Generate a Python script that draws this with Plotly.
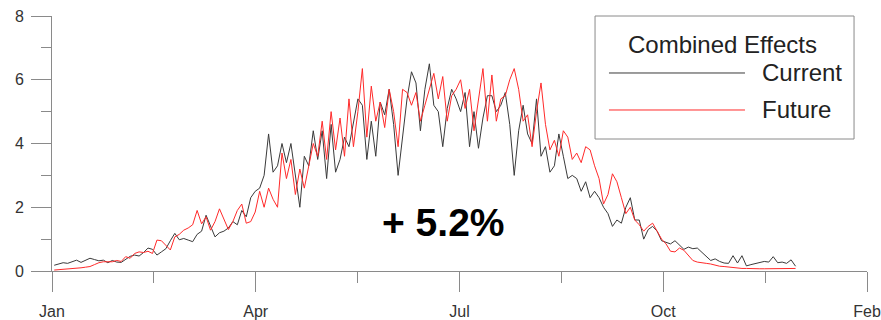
import plotly.graph_objects as go

# Day of year for each sample (every second day)
days = list(range(1, 334, 2))

current = [
    0.18, 0.22, 0.26, 0.24, 0.30, 0.34, 0.27, 0.33, 0.40, 0.36,
    0.32, 0.34, 0.26, 0.33, 0.28, 0.27, 0.36, 0.46, 0.50, 0.47,
    0.58, 0.72, 0.68, 0.50, 0.60, 0.70, 0.95, 1.18, 0.98, 1.02,
    0.97, 0.92, 1.15, 1.25, 1.75, 1.40, 1.07, 1.20, 1.25, 1.35,
    1.55, 1.45, 1.90, 1.70, 2.30, 2.50, 2.60, 3.00, 4.30, 3.10,
    3.30, 4.00, 3.40, 4.00, 3.00, 2.00, 3.60, 3.30, 4.40, 3.50,
    4.40, 2.90, 4.60, 3.10, 3.50, 4.20, 3.90, 4.70, 5.40, 5.20,
    3.50, 4.70, 3.60, 5.30, 4.90, 5.70, 4.60, 3.00, 4.20, 5.40,
    6.25, 5.90, 4.40, 5.70, 6.50, 5.20, 5.00, 3.90, 5.10, 5.70,
    5.40, 5.00, 5.60, 3.90, 5.00, 3.85, 4.80, 5.50, 5.50, 5.00,
    5.20, 5.60, 4.60, 3.00, 4.40, 5.20, 4.30, 4.00, 5.40, 3.60,
    3.90, 3.10, 3.30, 4.30, 3.60, 2.90, 3.00, 2.90, 2.50, 2.80,
    2.30, 2.50, 2.30, 2.00, 1.80, 1.40, 1.60, 1.50, 2.00, 2.30,
    1.60, 1.60, 1.00, 1.30, 1.40, 1.25, 0.95, 0.90, 0.85, 0.95,
    0.80, 0.68, 0.75, 0.70, 0.72, 0.60, 0.45, 0.33, 0.38, 0.30,
    0.25, 0.24, 0.48, 0.25, 0.48, 0.16, 0.20, 0.24, 0.28, 0.30,
    0.28, 0.45, 0.26, 0.28, 0.24, 0.35, 0.15,
]

future = [
    0.03, 0.04, 0.05, 0.06, 0.06, 0.08, 0.10, 0.12, 0.14, 0.20,
    0.26, 0.29, 0.30, 0.29, 0.33, 0.30, 0.45, 0.40, 0.55, 0.60,
    0.58, 0.62, 0.55, 0.97, 0.95, 0.80, 0.66, 1.07, 1.15, 1.28,
    1.35, 1.45, 1.90, 1.48, 1.70, 1.28, 1.55, 1.95, 1.65, 1.30,
    1.55, 1.90, 2.10, 1.50, 1.55, 1.85, 2.50, 2.00, 2.60, 2.25,
    2.00, 3.70, 2.90, 3.50, 2.40, 3.20, 2.60, 3.30, 4.00, 3.60,
    4.70, 3.50, 5.00, 3.80, 4.80, 3.60, 5.40, 3.90, 5.00, 6.35,
    4.20, 5.80, 4.70, 5.30, 4.50, 5.70, 5.00, 3.90, 5.70, 5.60,
    5.20, 5.60, 4.70, 5.20, 5.70, 6.20, 5.40, 6.10, 4.70, 5.50,
    5.70, 6.00, 5.10, 5.70, 4.40, 5.40, 6.35, 4.70, 6.15, 4.70,
    5.40, 5.50, 6.00, 6.35, 5.70, 4.70, 4.90, 3.90, 5.00, 5.90,
    4.60, 3.80, 4.10, 3.60, 4.40, 4.20, 3.50, 3.70, 3.40, 3.90,
    3.80, 3.30, 2.90, 2.10, 2.40, 3.05, 2.80, 2.30, 1.80, 2.00,
    1.60, 1.45, 1.25, 1.40, 1.50, 1.25, 1.00, 0.85, 0.62, 0.60,
    0.72, 0.65, 0.48, 0.33, 0.28, 0.25, 0.24, 0.22, 0.18, 0.15,
    0.14, 0.12, 0.10, 0.09, 0.08, 0.08, 0.07, 0.07, 0.07, 0.07,
    0.07, 0.07, 0.07, 0.08, 0.07, 0.08, 0.08,
]

x_tick_vals = [0, 91.25, 182.5, 273.75, 365]
x_tick_text = ["Jan", "Apr", "Jul", "Oct", "Feb"]
x_minor_vals = [45.625, 136.875, 228.125, 319.375]
y_tick_vals = [0, 2, 4, 6, 8]
y_minor_vals = [1, 3, 5, 7]

legend_title = "Combined Effects"
series_names = ["Current", "Future"]
series_colors = ["#3a3a3a", "#ff2a2a"]
annotation_text = "+ 5.2%"

AX = "#8a8a8a"
FONT = "Liberation Sans, Arial, sans-serif"

fig = go.Figure()
for name, vals, col in zip(series_names, [current, future], series_colors):
    fig.add_trace(go.Scatter(x=days, y=vals, mode="lines", name=name,
                             line=dict(color=col, width=1), showlegend=False))

fig.update_layout(
    width=881, height=320,
    margin=dict(l=52, r=14, t=16, b=49),
    paper_bgcolor="white", plot_bgcolor="white",
    font=dict(family=FONT, size=16, color="#333333"),
    showlegend=False,
)
fig.update_xaxes(
    range=[0, 365], tickmode="array", tickvals=x_tick_vals, ticktext=x_tick_text,
    ticks="outside", ticklen=20, tickcolor=AX, tickwidth=1,
    showline=True, linecolor=AX, linewidth=1, showgrid=False, zeroline=False,
    minor=dict(tickmode="array", tickvals=x_minor_vals, ticks="outside",
               ticklen=11, tickcolor=AX, tickwidth=1, showgrid=False),
    tickfont=dict(size=16, color="#333333"), ticklabelstandoff=6,
    automargin=False,
)
fig.update_yaxes(
    range=[0, 8], tickmode="array", tickvals=y_tick_vals,
    ticks="outside", ticklen=20, tickcolor=AX, tickwidth=1,
    showline=True, linecolor=AX, linewidth=1, showgrid=False, zeroline=False,
    minor=dict(tickmode="array", tickvals=y_minor_vals, ticks="outside",
               ticklen=10, tickcolor=AX, tickwidth=1, showgrid=False),
    tickfont=dict(size=16, color="#333333"), ticklabelstandoff=4,
    automargin=False,
)

# Legend box drawn manually (long sample lines like the original)
fig.add_shape(type="rect", xref="paper", yref="paper",
              x0=0.6663, x1=0.9841, y0=0.5176, y1=1.0,
              line=dict(color=AX, width=1), fillcolor="white", layer="above")
fig.add_annotation(xref="paper", yref="paper", x=0.8233, y=0.8863,
                   text=legend_title, showarrow=False,
                   font=dict(size=24, color="#222222"), xanchor="center", yanchor="middle")
for name, col, ly in zip(series_names, series_colors, [0.7765, 0.6314]):
    fig.add_shape(type="line", xref="paper", yref="paper",
                  x0=0.6834, x1=0.8503, y0=ly, y1=ly,
                  line=dict(color=col, width=1), layer="above")
    fig.add_annotation(xref="paper", yref="paper", x=0.8687, y=ly,
                       text=name, showarrow=False,
                       font=dict(size=24, color="#222222"), xanchor="left", yanchor="middle")

fig.add_annotation(xref="paper", yref="paper", x=0.4798, y=0.192,
                   text="<b>" + annotation_text + "</b>", showarrow=False,
                   font=dict(size=39, color="black"), xanchor="center", yanchor="middle")

fig.write_html("out.html")
